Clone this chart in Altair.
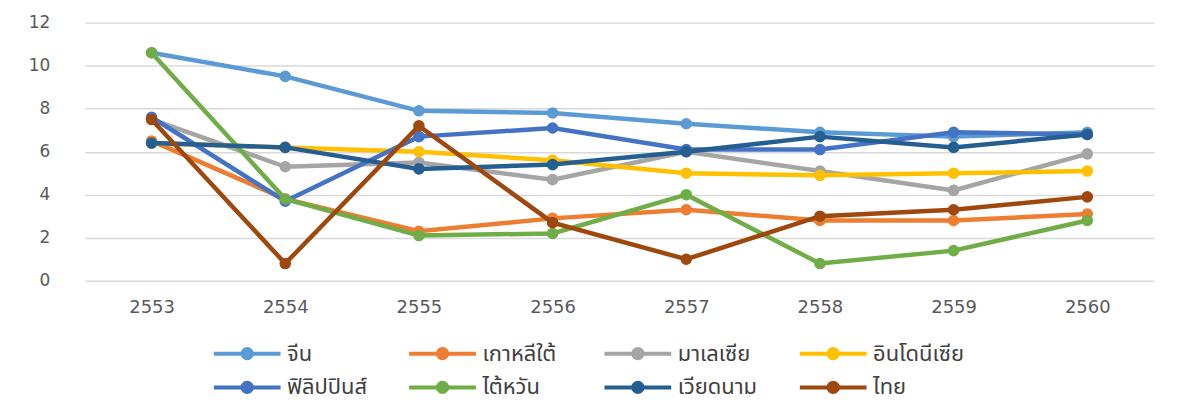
import altair as alt
import pandas as pd

years = ["2553", "2554", "2555", "2556", "2557", "2558", "2559", "2560"]
series_names = ["จีน", "เกาหลีใต้", "มาเลเซีย", "อินโดนีเซีย",
                "ฟิลิปปินส์", "ไต้หวัน", "เวียดนาม", "ไทย"]
china = [10.6, 9.5, 7.9, 7.8, 7.3, 6.9, 6.7, 6.9]
korea = [6.5, 3.8, 2.3, 2.9, 3.3, 2.8, 2.8, 3.1]
malaysia = [7.5, 5.3, 5.5, 4.7, 6.0, 5.1, 4.2, 5.9]
indonesia = [6.4, 6.2, 6.0, 5.6, 5.0, 4.9, 5.0, 5.1]
philippines = [7.6, 3.7, 6.7, 7.1, 6.1, 6.1, 6.9, 6.8]
taiwan = [10.6, 3.8, 2.1, 2.2, 4.0, 0.8, 1.4, 2.8]
vietnam = [6.4, 6.2, 5.2, 5.4, 6.0, 6.7, 6.2, 6.8]
thailand = [7.5, 0.8, 7.2, 2.7, 1.0, 3.0, 3.3, 3.9]
colors = ["#5B9BD5", "#ED7D31", "#A5A5A5", "#FFC000",
          "#4472C4", "#70AD47", "#255E91", "#9E480E"]

values = [china, korea, malaysia, indonesia, philippines, taiwan, vietnam, thailand]
rows = []
for name, vals in zip(series_names, values):
    for y, v in zip(years, vals):
        rows.append({"year": y, "series": name, "value": v})
df = pd.DataFrame(rows)

font = "DejaVu Sans"
thai_font = "Tahoma, Leelawadee UI, Noto Sans Thai, Noto Sans, sans-serif"

color = alt.Color(
    "series:N",
    scale=alt.Scale(domain=series_names, range=colors),
    sort=series_names,
    legend=alt.Legend(
        title=None, orient="none", legendX=143, legendY=312,
        direction="horizontal", columns=4, gridAlign="all",
        symbolType="M-1.86,0L1.86,0M-0.26,0A0.26,0.26,0,1,1,0.26,0A0.26,0.26,0,1,1,-0.26,0Z",
        symbolSize=1296, symbolStrokeWidth=4,
        labelFont=thai_font, labelFontSize=22, labelColor="#404040",
        labelOffset=20, columnPadding=22, rowPadding=1,
    ),
)

x = alt.X("year:N", sort=years, title=None,
          scale=alt.Scale(paddingInner=0, paddingOuter=0),
          axis=alt.Axis(labelAngle=0, ticks=False, domain=False, grid=False,
                        labelPadding=18, labelFontSize=18, labelColor="#595959",
                        labelFont=font))
y = alt.Y("value:Q", title=None,
          scale=alt.Scale(domain=[0, 12], nice=False),
          axis=alt.Axis(values=[0, 2, 4, 6, 8, 10, 12], ticks=False, domain=False,
                        labelPadding=35, labelFontSize=17, labelColor="#595959",
                        labelFont=font, gridColor="#D9D9D9", gridWidth=1.5))

layers = []
for name in series_names:
    base = alt.Chart(df).transform_filter(alt.datum.series == name)
    layers.append(base.mark_line(strokeWidth=4.5).encode(x=x, y=y, color=color))
    layers.append(base.mark_point(filled=True, size=135, opacity=1).encode(x=x, y=y, color=color))

chart = alt.layer(*layers).properties(
    width=1073, height=259,
    background="white",
    autosize=alt.AutoSizeParams(type="none"),
    padding={"left": 77, "top": 14, "right": 30, "bottom": 124},
).configure_view(strokeWidth=0, stroke="transparent")

chart.save("out.html", embed_options={"renderer": "svg", "actions": False})
